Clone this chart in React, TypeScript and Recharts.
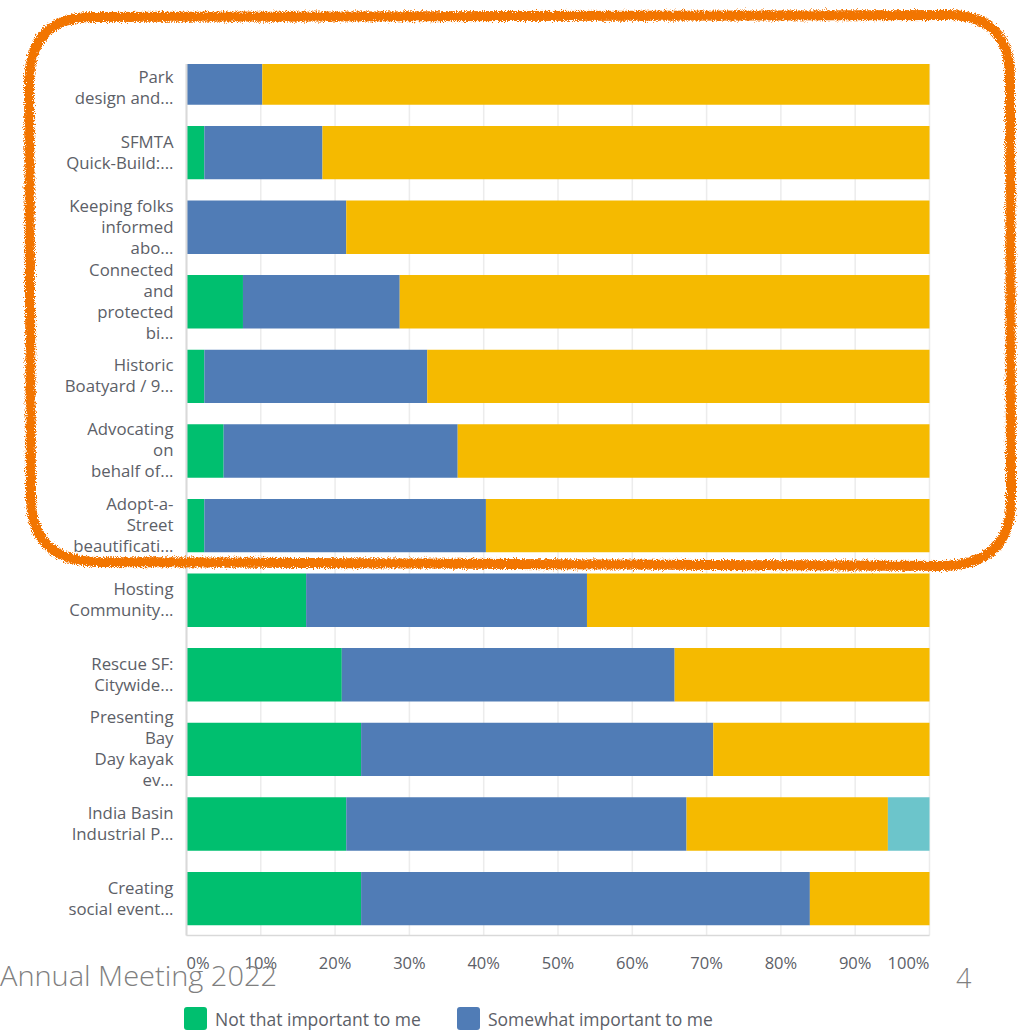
import React from "react";
import { BarChart, Bar, XAxis, YAxis, CartesianGrid } from "recharts";

const categories = [
  "Park\ndesign and...",
  "SFMTA\nQuick-Build:...",
  "Keeping folks\ninformed\nabo...",
  "Connected\nand\nprotected\nbi...",
  "Historic\nBoatyard / 9...",
  "Advocating\non\nbehalf of...",
  "Adopt-a-\nStreet\nbeautificati...",
  "Hosting\nCommunity...",
  "Rescue SF:\nCitywide...",
  "Presenting\nBay\nDay kayak\nev...",
  "India Basin\nIndustrial P...",
  "Creating\nsocial event...",
];

const notImportant = [0, 2.4, 0, 7.6, 2.4, 5.0, 2.4, 16.1, 20.9, 23.5, 21.5, 23.5];
const somewhatImportant = [10.2, 15.9, 21.5, 21.1, 30.0, 31.5, 37.9, 37.8, 44.8, 47.4, 45.8, 60.4];
const veryImportant = [89.8, 81.7, 78.5, 71.3, 67.6, 63.5, 59.7, 46.1, 34.3, 29.1, 27.1, 16.1];
const notApplicable = [0, 0, 0, 0, 0, 0, 0, 0, 0, 0, 5.6, 0];

const xTicks = [0, 10, 20, 30, 40, 50, 60, 70, 80, 90, 100];

const series = [
  { key: "not", name: "Not that important to me", color: "#00BF6F", values: notImportant },
  { key: "somewhat", name: "Somewhat important to me", color: "#507CB6", values: somewhatImportant },
  { key: "very", name: "Very important to me", color: "#F5BA00", values: veryImportant },
  { key: "na", name: "N/A", color: "#6CC5CB", values: notApplicable },
];

const visibleLegend = series.slice(0, 2);

const data = categories.map((label, i) => {
  const row: Record<string, any> = { label };
  series.forEach((s) => {
    row[s.key] = s.values[i];
  });
  return row;
});

const FONT = "'Open Sans', sans-serif";
const LABEL_COLOR = "#5c6067";

const YTick = (props: any) => {
  const { x, y, payload, index } = props;
  const lines = String(payload.value).split("\n");
  const lh = 21;
  const shift = index === 0 ? 10.5 : 0;
  const startY = y + shift - ((lines.length - 1) * lh) / 2;
  return (
    <text x={x} y={startY} textAnchor="end" fill={LABEL_COLOR} fontSize={16.8} fontFamily={FONT}>
      {lines.map((l: string, i: number) => (
        <tspan key={i} x={x} y={startY + i * lh} dy="0.35em">
          {l}
        </tspan>
      ))}
    </text>
  );
};

const XTick = (props: any) => {
  const { x, y, payload, index } = props;
  const anchor = index === 0 ? "start" : index === xTicks.length - 1 ? "end" : "middle";
  return (
    <text x={x} y={y + 27.8} dy="0.35em" textAnchor={anchor} fill={LABEL_COLOR} fontSize={16.5} fontFamily={FONT}>
      {`${payload.value}%`}
    </text>
  );
};

export default function App() {
  return (
    <div
      style={{
        position: "absolute",
        left: 0,
        top: 0,
        width: 1030,
        height: 1030,
        overflow: "hidden",
        background: "#ffffff",
      }}
    >
      <div style={{ position: "absolute", left: 0, top: 64, width: 1030, height: 966, overflow: "hidden" }}>
        <div style={{ position: "absolute", left: 0, top: -64 }}>
          <BarChart
            width={1030}
            height={1030}
            data={data}
            layout="vertical"
            margin={{ top: 40.3, right: 100.5, bottom: 54.5, left: 0 }}
            barSize={53.4}
          >
            <CartesianGrid horizontal={false} vertical={true} stroke="#ececec" strokeWidth={1.5} />
            <XAxis
              type="number"
              domain={[0, 100]}
              ticks={xTicks}
              interval={0}
              height={40}
              tickLine={false}
              tickSize={0}
              tickMargin={0}
              axisLine={{ stroke: "#d9d9d9", strokeWidth: 1.5 }}
              tick={<XTick />}
            />
            <YAxis
              type="category"
              dataKey="label"
              width={186.5}
              interval={0}
              tickLine={false}
              tickSize={0}
              tickMargin={13}
              axisLine={{ stroke: "#d9d9d9", strokeWidth: 2 }}
              tick={<YTick />}
            />
            {series.map((s) => (
              <Bar key={s.key} dataKey={s.key} name={s.name} stackId="a" fill={s.color} isAnimationActive={false} />
            ))}
          </BarChart>
        </div>
      </div>

      {visibleLegend.map((s, i) => (
        <div
          key={s.key}
          style={{
            position: "absolute",
            left: i === 0 ? 184 : 457,
            top: 1007,
            display: "flex",
            alignItems: "flex-start",
            fontFamily: FONT,
            fontSize: 17.5,
            color: LABEL_COLOR,
            whiteSpace: "nowrap",
          }}
        >
          <div style={{ width: 23, height: 23, borderRadius: 3, background: s.color, marginRight: 8 }} />
          <div style={{ lineHeight: "24px" }}>{s.name}</div>
        </div>
      ))}

      <svg
        width={1030}
        height={1030}
        style={{ position: "absolute", left: 0, top: 0, pointerEvents: "none" }}
      >
        <defs>
          <filter id="rough" x="-5%" y="-5%" width="110%" height="110%">
            <feTurbulence type="fractalNoise" baseFrequency="1.1" numOctaves={3} seed={7} result="noise" />
            <feDisplacementMap in="SourceGraphic" in2="noise" scale={7} xChannelSelector="R" yChannelSelector="G" />
          </filter>
        </defs>
        <path
          d="M 92 17 L 948 15 Q 1010 15 1010 78 L 1011 500 Q 1011 564 944 566 L 96 562 Q 31 560 31 498 L 29 84 Q 29 17 92 17 Z"
          fill="none"
          stroke="#F27405"
          strokeWidth={10}
          filter="url(#rough)"
        />
        <text
          x={0}
          y={986}
          fontFamily={FONT}
          fontWeight={300}
          fontSize={27}
          fill="#7f7f7f"
          textLength={277}
          lengthAdjust="spacingAndGlyphs"
        >
          Annual Meeting 2022
        </text>
        <text x={956} y={988} fontFamily={FONT} fontWeight={300} fontSize={27} fill="#7f7f7f">
          4
        </text>
      </svg>
    </div>
  );
}
